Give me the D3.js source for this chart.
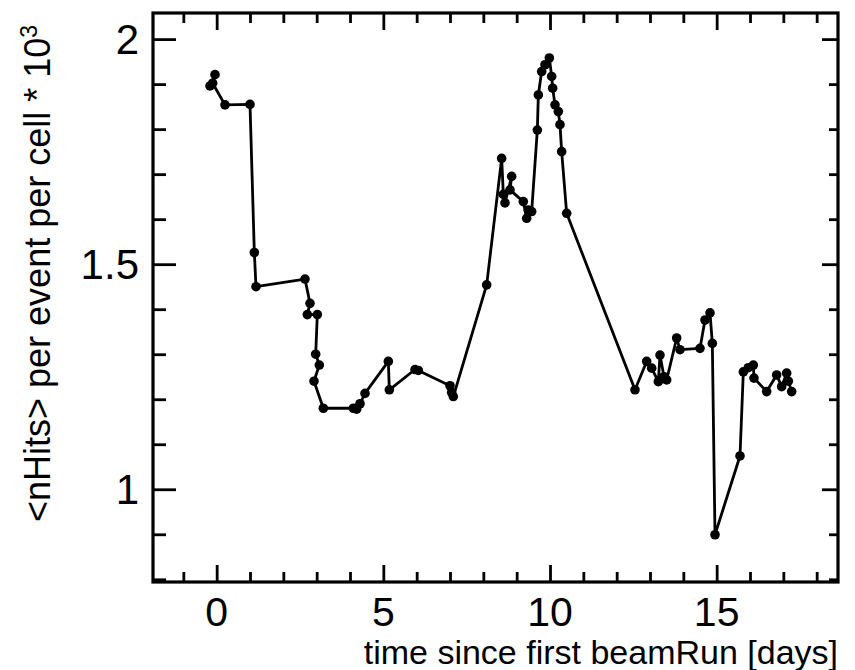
<!DOCTYPE html>
<html>
<head>
<meta charset="utf-8">
<script src="https://cdn.jsdelivr.net/npm/d3@7"></script>
<style>
  html, body { margin: 0; padding: 0; background: #fff; }
  svg { display: block; }
  text { font-family: "Liberation Sans", Arial, sans-serif; fill: #000; }
</style>
</head>
<body>
<svg id="chart" width="855" height="670"></svg>
<script>
// time since first beam run [days]
const days = [
  -0.20, -0.05, -0.12, 0.25, 1.00, 1.13, 1.18, 2.65,
  2.80, 2.72, 3.02, 2.97, 3.08, 2.92, 3.20,
  4.10, 4.20, 4.30, 4.45, 5.15, 5.18, 5.95, 6.05,
  7.00, 7.05, 7.10, 8.10,
  8.55, 8.60, 8.65, 8.85, 8.80, 9.20, 9.30, 9.35, 9.45,
  9.62, 9.65, 9.75, 9.85, 9.98, 10.05, 10.08, 10.15, 10.25, 10.30, 10.35, 10.50,
  12.55, 12.90, 13.05, 13.25, 13.30, 13.42, 13.50, 13.80, 13.90, 14.50,
  14.65, 14.80, 14.87, 14.95, 15.70, 15.80, 15.95, 16.10, 16.12,
  16.50, 16.80, 16.95, 17.10, 17.15, 17.25
];
// <nHits> per event per cell * 10^3
const hits = [
  1.896, 1.921, 1.902, 1.854, 1.855, 1.526, 1.450, 1.467,
  1.413, 1.388, 1.388, 1.300, 1.276, 1.240, 1.180,
  1.180, 1.178, 1.190, 1.213, 1.284, 1.221, 1.266, 1.264,
  1.230, 1.215, 1.206, 1.454,
  1.735, 1.655, 1.636, 1.695, 1.665, 1.639, 1.602, 1.620, 1.617,
  1.798, 1.876, 1.928, 1.943, 1.958, 1.917, 1.891, 1.854, 1.839, 1.810, 1.750, 1.613,
  1.221, 1.284, 1.269, 1.239, 1.298, 1.250, 1.243, 1.336, 1.310, 1.313,
  1.376, 1.392, 1.324, 0.899, 1.074, 1.261, 1.270, 1.276, 1.247,
  1.217, 1.254, 1.228, 1.258, 1.240, 1.217
];
const xTickLabels = ["0", "5", "10", "15"];
const yTickLabels = ["1", "1.5", "2"];

const svg = d3.select("#chart");
const plotL = 153, plotR = 838, plotT = 13, plotB = 582;

const x = d3.scaleLinear().domain([-1.91, 18.64]).range([plotL, plotR]);
const y = d3.scaleLinear().domain([0.794, 2.058]).range([plotB, plotT]);

const xMajor = xTickLabels.map(Number);
const xMinor = d3.range(-1, 19, 1).filter(v => !xMajor.includes(v) && x(v) < plotR - 2 && x(v) > plotL + 2);
const yMajor = yTickLabels.map(Number);
const yMinor = d3.range(8, 21).map(v => v / 10).filter(v => !yMajor.includes(v) && y(v) > plotT + 2 && y(v) < plotB - 2);

function ticks(axisFn, scale, values, size, pos) {
  const g = svg.append("g")
    .attr("transform", pos)
    .call(axisFn(scale).tickValues(values).tickSize(size).tickFormat(""));
  g.select(".domain").remove();
  g.selectAll(".tick line").attr("stroke", "#000").attr("stroke-width", 2.8);
  return g;
}

// ticks on all four sides, pointing inward
ticks(d3.axisBottom, x, xMajor, -17, `translate(0,${plotB})`);
ticks(d3.axisBottom, x, xMinor, -10, `translate(0,${plotB})`);
ticks(d3.axisTop, x, xMajor, -17, `translate(0,${plotT})`);
ticks(d3.axisTop, x, xMinor, -10, `translate(0,${plotT})`);
ticks(d3.axisLeft, y, yMajor, -23, `translate(${plotL},0)`);
ticks(d3.axisLeft, y, yMinor, -13, `translate(${plotL},0)`);
ticks(d3.axisRight, y, yMajor, -16, `translate(${plotR},0)`);
ticks(d3.axisRight, y, yMinor, -9, `translate(${plotR},0)`);

// frame
svg.append("rect")
  .attr("x", plotL).attr("y", plotT)
  .attr("width", plotR - plotL).attr("height", plotB - plotT)
  .attr("fill", "none").attr("stroke", "#000").attr("stroke-width", 3.2);

// tick labels
svg.append("g").selectAll("text").data(xTickLabels).join("text")
  .attr("x", d => x(+d)).attr("y", 626)
  .attr("text-anchor", "middle")
  .attr("font-size", 41)
  .text(d => d);

svg.append("g").selectAll("text").data(yTickLabels).join("text")
  .attr("x", 139).attr("y", d => y(+d) + 15)
  .attr("text-anchor", "end")
  .attr("font-size", 42)
  .text(d => d);

// axis titles
svg.append("text")
  .attr("x", 838).attr("y", 664)
  .attr("text-anchor", "end")
  .attr("font-size", 34)
  .text("time since first beamRun [days]");

const yTitle = svg.append("text")
  .attr("transform", "translate(50,522) rotate(-90)")
  .attr("text-anchor", "start")
  .attr("font-size", 36);
yTitle.append("tspan").text("<nHits> per event per cell * 10");
yTitle.append("tspan").attr("dy", -13).attr("font-size", 23).text("3");

// series
const pts = days.map((d, i) => [d, hits[i]]);
const line = d3.line().x(d => x(d[0])).y(d => y(d[1]));

svg.append("path")
  .datum(pts)
  .attr("d", line)
  .attr("fill", "none")
  .attr("stroke", "#000")
  .attr("stroke-width", 2.8)
  .attr("stroke-linejoin", "round");

svg.append("g").selectAll("circle").data(pts).join("circle")
  .attr("cx", d => x(d[0]))
  .attr("cy", d => y(d[1]))
  .attr("r", 4.8)
  .attr("fill", "#000");
</script>
</body>
</html>
